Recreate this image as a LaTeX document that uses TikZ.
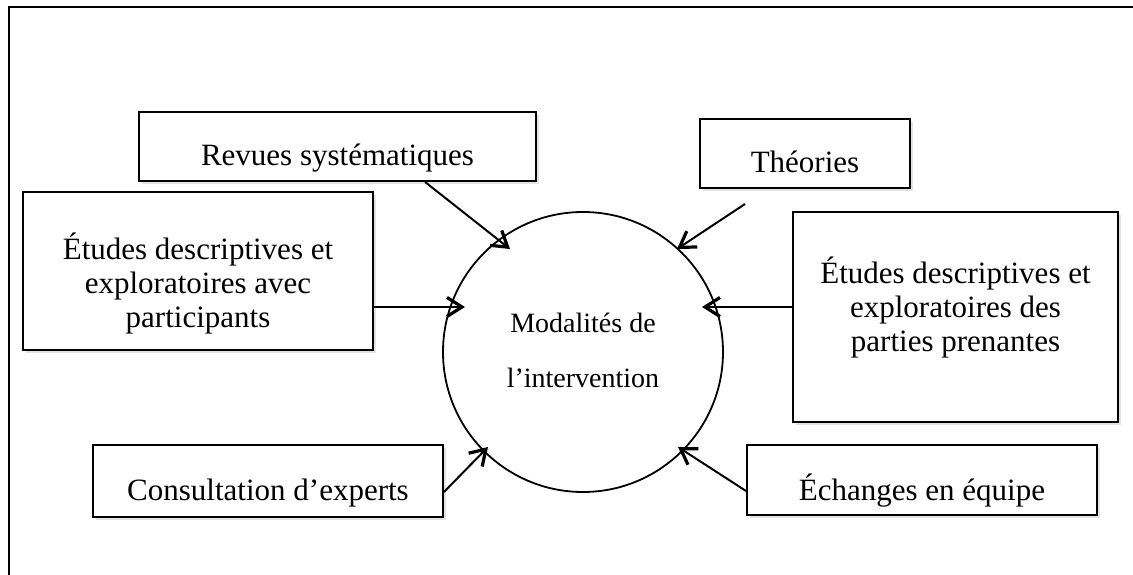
\documentclass[tikz,border=0pt]{standalone}
\usepackage{fontspec}
\setmainfont{Liberation Serif}
\usetikzlibrary{arrows.meta,shadows,calc}
\begin{document}
\begin{tikzpicture}[x=1pt,y=-1pt,
  box/.style={draw, line width=1.9pt, fill=white, inner sep=0pt,
    drop shadow={opacity=0.22, shadow xshift=3pt, shadow yshift=-3pt}},
  lbl/.style={anchor=base, inner sep=0pt, font=\fontsize{31}{34}\selectfont},
  clbl/.style={anchor=base, inner sep=0pt, font=\fontsize{28}{34}\selectfont},
  arr/.style={line width=2pt, -{Straight Barb[length=15pt,width=19pt,line width=3.2pt]}}]
\useasboundingbox (0,0) rectangle (1133,575);
\draw[line width=2.6pt] (9,576) -- (9,7) -- (1134,7);

% boxes
\node[box, minimum width=397pt, minimum height=69pt] (revues) at (337.5,146.5) {};
\node[box, minimum width=210pt, minimum height=69pt] (theo) at (805,153.5) {};
\node[box, minimum width=350pt, minimum height=158pt] (etl) at (198,271) {};
\node[box, minimum width=325pt, minimum height=210pt] (etr) at (955.5,317) {};
\node[box, minimum width=350pt, minimum height=72pt] (cons) at (268,481) {};
\node[box, minimum width=350pt, minimum height=70pt] (ech) at (922,480) {};
\node[draw, circle, line width=1.8pt, minimum size=280pt, inner sep=0pt] (circ) at (583,352) {};

% texts
\node[lbl] (revuesT) at (337.5,165) {Revues systématiques};
\node[lbl] (theoT) at (805,173) {Théories};
\node[lbl] (etlA) at (198,259) {Études descriptives et};
\node[lbl] (etlB) at (198,293) {exploratoires avec};
\node[lbl] (etlC) at (198,327) {participants};
\node[lbl] (etrA) at (955.5,283) {Études descriptives et};
\node[lbl] (etrB) at (955.5,317) {exploratoires des};
\node[lbl] (etrC) at (955.5,351) {parties prenantes};
\node[lbl] (consT) at (268,500) {Consultation d’experts};
\node[lbl] (echT) at (922,500) {Échanges en équipe};
\node[clbl] (circA) at (583,332) {Modalités de};
\node[clbl] (circB) at (583,387) {l’intervention};

% arrow tips and free end
\coordinate (t1) at (510,249);
\coordinate (t2) at (677,249);
\coordinate (t3) at (465,307);
\coordinate (t4) at (702,307);
\coordinate (t5) at (488,447);
\coordinate (t6) at (678,447);
\coordinate (s2) at (745,204);

\draw[arr] ([xshift=87.5pt]revues.south) -- (t1);
\draw[arr] (s2) -- (t2);
\draw[arr] (etl.east |- t3) -- (t3);
\draw[arr] (etr.west |- t4) -- (t4);
\draw[arr] ([yshift=-11pt]cons.east) -- (t5);
\draw[arr] ([yshift=-11pt]ech.west) -- (t6);
\end{tikzpicture}
\end{document}
